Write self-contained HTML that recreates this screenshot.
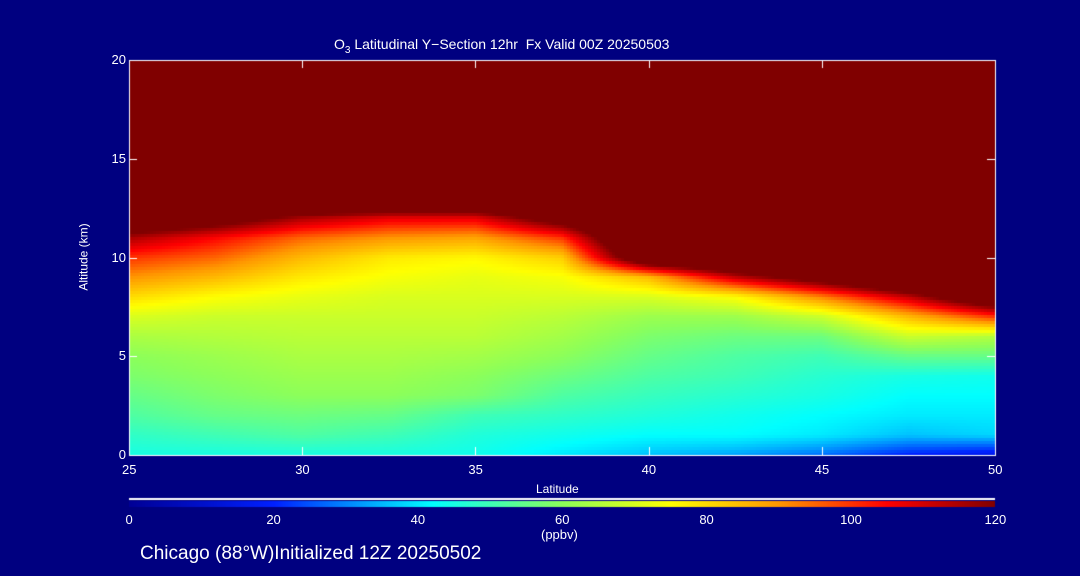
<!DOCTYPE html>
<html><head><meta charset="utf-8"><style>
body{margin:0;background:#000080;width:1080px;height:576px;overflow:hidden;font-family:"Liberation Sans",sans-serif;color:#fff}
.t{position:absolute;font-size:13px;white-space:nowrap}
</style></head><body>
<div style="position:relative;width:1080px;height:576px">
<div class="t" style="left:334px;top:36px;font-size:14px">O<sub style="font-size:10px">3</sub> Latitudinal Y−Section 12hr&nbsp; Fx Valid 00Z 20250503</div>
<canvas id="c" width="1080" height="576" style="position:absolute;left:0;top:0"></canvas>
<div class="t" style="left:50px;top:250px;transform:rotate(-90deg);font-size:12px">Altitude (km)</div>
<div class="t" style="left:536px;top:482px;font-size:12px">Latitude</div>
<div class="t" style="left:541px;top:527px;font-size:13px">(ppbv)</div>
<div class="t" style="left:140px;top:543px;font-size:19px">Chicago (88°W)Initialized 12Z 20250502</div>
<div id="lab"></div>
</div>
<script>
const lats=[25,27.5,30,32.5,35,37.5,40,42.5,45,47.5,50];
const alts=[0,1,2,3,4,5,6,7,8,9,10,11,12,13,14,15,16,17,18,19,20];
const ozone=[
[45,45,45,45,44,40,36,33,28,20,16],
[48,50,52,50,46,44,42,42,40,36,38],
[52,55,56,55,50,48,46,44,42,40,40],
[55,58,60,60,58,52,49,47,45,42,42],
[58,60,62,62,60,56,52,50,47,45,44],
[60,62,64,64,63,60,55,52,50,55,55],
[64,65,66,66,66,63,58,56,56,68,65],
[70,68,68,68,68,66,62,62,68,85,100],
[80,75,72,70,70,70,70,75,92,112,140],
[90,85,78,74,72,74,85,112,130,150,150],
[100,95,85,78,76,82,140,150,150,150,150],
[115,105,95,90,88,100,150,150,150,150,150],
[140,130,115,108,108,130,150,150,150,150,150],
[150,150,150,150,150,150,150,150,150,150,150],
[150,150,150,150,150,150,150,150,150,150,150],
[150,150,150,150,150,150,150,150,150,150,150],
[150,150,150,150,150,150,150,150,150,150,150],
[150,150,150,150,150,150,150,150,150,150,150],
[150,150,150,150,150,150,150,150,150,150,150],
[150,150,150,150,150,150,150,150,150,150,150],
[150,150,150,150,150,150,150,150,150,150,150]];
const xTicks=[25,30,35,40,45,50];
const yTicks=[0,5,10,15,20];
const cbTicks=[0,20,40,60,80,100,120];
const X0=129,X1=995,Y0=455,Y1=60;
const xs=v=>X0+(v-25)/25*(X1-X0);
const ys=v=>Y0-(v/20)*(Y0-Y1);
const stops=[[0,[0,0,150]],[20,[0,32,255]],[42,[0,255,255]],[60,[140,255,90]],[75,[255,255,0]],[90,[255,150,0]],[105,[255,0,0]],[120,[128,0,0]]];
function cmap(v){if(v<=0)return stops[0][1];if(v>=120)return stops[7][1];
for(let i=0;i<7;i++){const a=stops[i],b=stops[i+1];if(v<=b[0]){const t=(v-a[0])/(b[0]-a[0]);return a[1].map((c,k)=>Math.round(c+(b[1][k]-c)*t));}}}
function val(lat,alt){let i=Math.min(lats.length-2,Math.floor((lat-25)/2.5));let j=Math.min(alts.length-2,Math.floor(alt));
const tx=(lat-lats[i])/2.5,ty=alt-alts[j];
const a=ozone[j][i],b=ozone[j][i+1],c=ozone[j+1][i],d=ozone[j+1][i+1];
return a*(1-tx)*(1-ty)+b*tx*(1-ty)+c*(1-tx)*ty+d*tx*ty;}
const cv=document.getElementById('c'),g=cv.getContext('2d');
const S=3;
for(let px=X0;px<X1;px+=S)for(let py=Y1;py<Y0;py+=S){
const lat=25+(px+S/2-X0)/(X1-X0)*25,alt=(Y0-(py+S/2))/(Y0-Y1)*20;
const c=cmap(val(lat,alt));g.fillStyle=`rgb(${c})`;g.fillRect(px,py,S,S);}
g.strokeStyle='#fff';g.lineWidth=1;g.strokeRect(X0+.5,Y1+.5,X1-X0,Y0-Y1);
g.beginPath();
xTicks.forEach(t=>{const x=Math.round(xs(t))+.5;g.moveTo(x,Y0);g.lineTo(x,Y0-8);g.moveTo(x,Y1);g.lineTo(x,Y1+8);});
yTicks.forEach(t=>{const y=Math.round(ys(t))+.5;g.moveTo(X0,y);g.lineTo(X0+8,y);g.moveTo(X1,y);g.lineTo(X1-8,y);});
g.stroke();
g.fillStyle='#fff';g.fillRect(X0,498,X1-X0,2);
for(let px=X0;px<X1;px++){const c=cmap((px-X0)/(X1-X0)*120);g.fillStyle=`rgb(${c})`;g.fillRect(px,501,1,6);}
const lab=document.getElementById('lab');
function addLabel(txt,x,y,name){const d=document.createElement('div');d.className='t';d.textContent=txt;d.style.left=x+'px';d.style.top=y+'px';


lab.appendChild(d);return d;}
xTicks.forEach(t=>{addLabel(String(t),xs(t)-7,462,'x-tick-label');});
yTicks.forEach(t=>{const d=addLabel(String(t),0,ys(t)-8,'y-tick-label');d.style.left='';d.style.right=(1080-126)+'px';});
cbTicks.forEach(t=>{const w=String(t).length*7;addLabel(String(t),X0+t/120*(X1-X0)-w/2,512,'colorbar-tick-label');});
</script>
</body></html>
